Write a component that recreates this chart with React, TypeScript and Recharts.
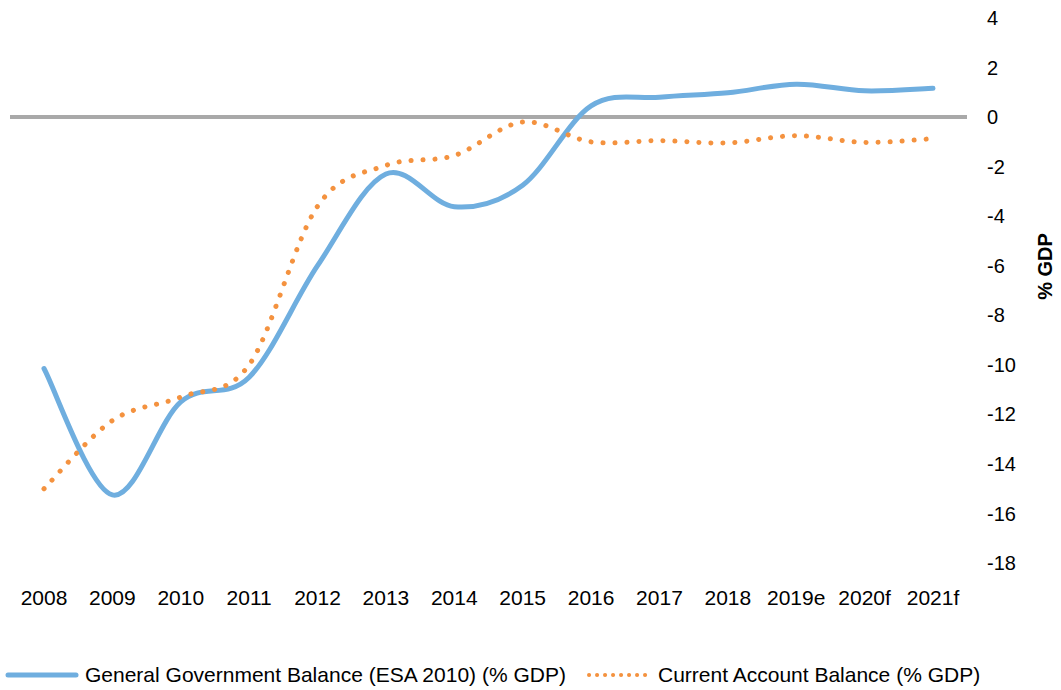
import React from "react";
import {
  LineChart,
  Line,
  XAxis,
  YAxis,
  ReferenceLine,
  Legend,
} from "recharts";

const years = [
  "2008", "2009", "2010", "2011", "2012", "2013", "2014",
  "2015", "2016", "2017", "2018", "2019e", "2020f", "2021f",
];
const govBalance = [
  -10.15, -15.25, -11.5, -10.5, -6.0, -2.3, -3.62,
  -2.75, 0.45, 0.8, 0.98, 1.33, 1.06, 1.16,
];
const currentAccount = [
  -15.0, -12.25, -11.3, -10.0, -3.6, -1.95, -1.55,
  -0.2, -1.0, -0.95, -1.04, -0.75, -1.02, -0.87,
];
const yTicks = [-18, -16, -14, -12, -10, -8, -6, -4, -2, 0, 2, 4];

const GOV_NAME = "General Government Balance (ESA 2010) (% GDP)";
const CA_NAME = "Current Account Balance (% GDP)";

const BLUE = "#6FAEDF";
const ORANGE = "#F4923F";
const FONT = "'Liberation Sans', Arial, sans-serif";

const data = years.map((year, i) => ({
  year,
  gov: govBalance[i],
  ca: currentAccount[i],
}));

// smooth line like Excel's "smoothed line" (catmull-rom through the points)
function smoothCurve(context: any) {
  let pts: [number, number][] = [];
  return {
    areaStart() {},
    areaEnd() {},
    lineStart() {
      pts = [];
    },
    point(x: number, y: number) {
      pts.push([+x, +y]);
    },
    lineEnd() {
      if (!pts.length) return;
      context.moveTo(pts[0][0], pts[0][1]);
      for (let i = 0; i < pts.length - 1; i++) {
        const p0 = pts[i - 1] || pts[i];
        const p1 = pts[i];
        const p2 = pts[i + 1];
        const p3 = pts[i + 2] || pts[i + 1];
        context.bezierCurveTo(
          p1[0] + (p2[0] - p0[0]) / 6,
          p1[1] + (p2[1] - p0[1]) / 6,
          p2[0] - (p3[0] - p1[0]) / 6,
          p2[1] - (p3[1] - p1[1]) / 6,
          p2[0],
          p2[1]
        );
      }
    },
  };
}

function ChartLegend() {
  return (
    <div
      style={{
        position: "relative",
        height: 30,
        width: 1061,
        fontFamily: FONT,
        fontSize: 21,
        color: "#000",
      }}
    >
      <div style={{ position: "absolute", left: 4, top: 0, height: 30, display: "flex", alignItems: "center" }}>
        <svg width={76} height={10}>
          <line x1={4} y1={5} x2={72} y2={5} stroke={BLUE} strokeWidth={5} strokeLinecap="round" />
        </svg>
        <span style={{ marginLeft: 5 }}>{GOV_NAME}</span>
      </div>
      <div style={{ position: "absolute", left: 585, top: 0, height: 30, display: "flex", alignItems: "center" }}>
        <svg width={70} height={10}>
          <line
            x1={4}
            y1={5}
            x2={68}
            y2={5}
            stroke={ORANGE}
            strokeWidth={4}
            strokeLinecap="round"
            strokeDasharray="0.1 7.9"
          />
        </svg>
        <span style={{ marginLeft: 3 }}>{CA_NAME}</span>
      </div>
    </div>
  );
}

export default function App() {
  return (
    <div style={{ position: "absolute", left: 0, top: 0, background: "#fff" }}>
      <LineChart
        width={1061}
        height={690}
        data={data}
        margin={{ top: 18, right: 0, left: 10, bottom: 0 }}
        style={{ fontFamily: FONT }}
      >
        <XAxis
          dataKey="year"
          interval={0}
          axisLine={false}
          tickLine={false}
          tickSize={0}
          tickMargin={27}
          height={97}
          padding={{ left: 34, right: 34 }}
          tick={{ fill: "#000", fontSize: 21 }}
        />
        <YAxis
          orientation="right"
          width={94}
          domain={[-18, 4]}
          ticks={yTicks}
          interval={0}
          axisLine={false}
          tickLine={false}
          tickSize={0}
          tickMargin={20}
          tick={{ fill: "#000", fontSize: 20 }}
          label={{
            content: ({ viewBox }: any) => {
              const cx = viewBox.x + 78;
              const cy = viewBox.y + viewBox.height / 2 - 24;
              return (
                <text
                  x={cx}
                  y={cy}
                  transform={`rotate(-90 ${cx} ${cy})`}
                  textAnchor="middle"
                  dominantBaseline="central"
                  fontWeight="bold"
                  fontSize={20}
                  fill="#000"
                >
                  % GDP
                </text>
              );
            },
          }}
        />
        <ReferenceLine y={0} stroke="#A9A9A9" strokeWidth={4} />
        <Line
          dataKey="gov"
          name={GOV_NAME}
          type={smoothCurve as any}
          stroke={BLUE}
          strokeWidth={5}
          strokeLinecap="round"
          dot={false}
          activeDot={false}
          isAnimationActive={false}
        />
        <Line
          dataKey="ca"
          name={CA_NAME}
          type={smoothCurve as any}
          stroke={ORANGE}
          strokeWidth={5}
          strokeLinecap="round"
          strokeDasharray="0.1 11.9"
          dot={false}
          activeDot={false}
          isAnimationActive={false}
        />
        <Legend
          verticalAlign="bottom"
          height={30}
          content={() => <ChartLegend />}
          wrapperStyle={{ left: 0, width: 1061, bottom: 0 }}
        />
      </LineChart>
    </div>
  );
}
